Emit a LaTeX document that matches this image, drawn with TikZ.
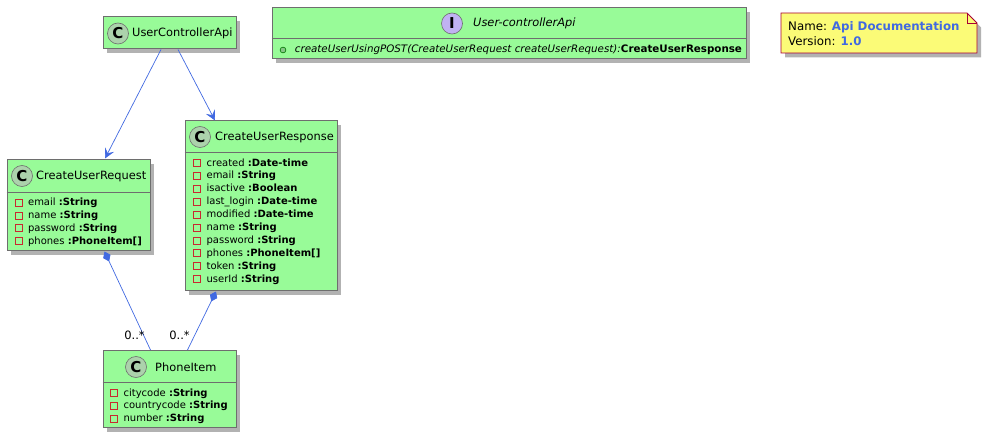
\documentclass[tikz,border=0pt]{standalone}
\usepackage{fontspec}
\setmainfont{DejaVu Sans}
\usetikzlibrary{arrows.meta,positioning,shadows}
\definecolor{boxgreen}{HTML}{98FB98}
\definecolor{boxline}{HTML}{6E6E6E}
\definecolor{linkblue}{HTML}{4169E1}
\definecolor{notefill}{HTML}{FBFB77}
\definecolor{noteline}{HTML}{A80036}
\definecolor{markred}{HTML}{C82930}
\tikzset{
  softshadow/.style={drop shadow={shadow xshift=4pt,shadow yshift=-4.5pt,fill=black,opacity=.3}},
  classbox/.style={draw=boxline,line width=1pt,fill=boxgreen,softshadow,rectangle,inner sep=0pt},
  classicon/.style={circle,draw=boxline,line width=.6pt,fill=#1,minimum size=21pt,inner sep=0pt,font=\fontsize{15}{15}\selectfont\bfseries},
  classicon/.default={green!30!gray!50},
  title/.style={inner sep=0pt,anchor=west,font=\fontsize{11.4}{13}\selectfont},
  member/.style={inner sep=0pt,anchor=west,text height=8pt,text depth=2pt,xshift=5.5pt,font=\fontsize{10}{12}\selectfont},
  privatemark/.style={rectangle,draw=markred,line width=.8pt,minimum size=7pt,inner sep=0pt},
  publicmark/.style={circle,draw=green!45!black,fill=green!35!gray!70,line width=.6pt,minimum size=5.8pt,inner sep=0pt},
  rule/.style={draw=boxline,line width=1pt},
  link/.style={linkblue,line width=.7pt},
  mult/.style={inner sep=0pt,font=\fontsize{11.5}{13}\selectfont}
}
\begin{document}
\begin{tikzpicture}[%
x=1pt,y=-1pt,
>={Stealth[inset=4pt,length=10pt,width=10pt]},
node distance=12.9pt,
on grid
]
\useasboundingbox (0,0) rectangle (982,441);

% class boxes
\node[classbox,minimum width=133pt,minimum height=32pt] (uca) at (169.5,33) {};
\node[classbox,minimum width=474pt,minimum height=51pt] (api) at (509,33.5) {};
\node[classbox,minimum width=152pt,minimum height=169pt] (resp) at (261,205.5) {};
\node[classbox,minimum width=143pt,minimum height=91pt] (req) at (78.5,204.5) {};
\node[classbox,minimum width=133pt,minimum height=77pt] (phone) at (169.5,389) {};

% dividers
\draw[rule] (api.west |- 0,39) -- (api.east |- 0,39);
\draw[rule] (resp.west |- 0,152) -- (resp.east |- 0,152);
\draw[rule] (req.west |- 0,192) -- (req.east |- 0,192);
\draw[rule] (phone.west |- 0,382) -- (phone.east |- 0,382);

% titles
\node[classicon] (ucaicon) at (118,33.5) {C};
\node[title] (ucatitle) at (132,33.5) {UserControllerApi};
\node[classicon=violet!35!blue!30] (apiicon) at (452,23.5) {I};
\node[title,font=\fontsize{11.4}{13}\selectfont\itshape] (apititle) at (473,23.5) {User-controllerApi};
\node[classicon] (respicon) at (200,137) {C};
\node[title] (resptitle) at (215,137) {CreateUserResponse};
\node[classicon] (reqicon) at (22,176) {C};
\node[title] (reqtitle) at (36,176) {CreateUserRequest};
\node[classicon] (phoneicon) at (136,367) {C};
\node[title] (phonetitle) at (155,367) {PhoneItem};

% interface method
\node[publicmark] (api1) at (283,50) {};
\node[member,xshift=3pt,font=\fontsize{10.3}{12}\selectfont\itshape] (api1t) at (api1.east) {createUserUsingPOST(CreateUserRequest createUserRequest):\textbf{\upshape CreateUserResponse}};

% response members
\node[privatemark] (resp1) at (197,163) {};
\node[privatemark] (resp2) [below of=resp1] {};
\node[privatemark] (resp3) [below of=resp2] {};
\node[privatemark] (resp4) [below of=resp3] {};
\node[privatemark] (resp5) [below of=resp4] {};
\node[privatemark] (resp6) [below of=resp5] {};
\node[privatemark] (resp7) [below of=resp6] {};
\node[privatemark] (resp8) [below of=resp7] {};
\node[privatemark] (resp9) [below of=resp8] {};
\node[privatemark] (resp10) [below of=resp9] {};
\node[member] (resp1t) at (resp1.east) {created \textbf{:Date-time}};
\node[member] (resp2t) at (resp2.east) {email \textbf{:String}};
\node[member] (resp3t) at (resp3.east) {isactive \textbf{:Boolean}};
\node[member] (resp4t) at (resp4.east) {last\_login \textbf{:Date-time}};
\node[member] (resp5t) at (resp5.east) {modified \textbf{:Date-time}};
\node[member] (resp6t) at (resp6.east) {name \textbf{:String}};
\node[member] (resp7t) at (resp7.east) {password \textbf{:String}};
\node[member] (resp8t) at (resp8.east) {phones \textbf{:PhoneItem[]}};
\node[member] (resp9t) at (resp9.east) {token \textbf{:String}};
\node[member] (resp10t) at (resp10.east) {userId \textbf{:String}};

% request members
\node[privatemark] (req1) at (18.5,202.5) {};
\node[privatemark] (req2) [below of=req1] {};
\node[privatemark] (req3) [below of=req2] {};
\node[privatemark] (req4) [below of=req3] {};
\node[member] (req1t) at (req1.east) {email \textbf{:String}};
\node[member] (req2t) at (req2.east) {name \textbf{:String}};
\node[member] (req3t) at (req3.east) {password \textbf{:String}};
\node[member] (req4t) at (req4.east) {phones \textbf{:PhoneItem[]}};

% phone members
\node[privatemark] (phone1) at (114,393) {};
\node[privatemark] (phone2) [below of=phone1] {};
\node[privatemark] (phone3) [below of=phone2] {};
\node[member] (phone1t) at (phone1.east) {citycode \textbf{:String}};
\node[member] (phone2t) at (phone2.east) {countrycode \textbf{:String}};
\node[member] (phone3t) at (phone3.east) {number \textbf{:String}};

% note
\draw[draw=noteline,line width=.8pt,fill=notefill,softshadow]
  (781,13) -- (967,13) -- (977,23) -- (977,53) -- (781,53) -- cycle;
\draw[draw=noteline,line width=.8pt] (967,13) -- (967,23) -- (977,23);
\node[inner sep=0pt,anchor=west,align=left,font=\fontsize{11.8}{15}\selectfont] (note) at (788,33.5)
  {Name: \textcolor{linkblue}{\textbf{Api Documentation}}\\Version: \textcolor{linkblue}{\textbf{1.0}}};

% arrows
\path[->,link] ([xshift=-8.5pt] uca.south) edge ([xshift=26.5pt] req.north);
\path[->,link] ([xshift=8.5pt] uca.south) edge ([xshift=-46pt] resp.north);
\path[{Diamond[length=11pt,width=8pt]}-,link] ([xshift=26pt,yshift=-1pt] req.south) edge ([xshift=-19pt] phone.north);
\path[{Diamond[length=11pt,width=8pt]}-,link] ([xshift=-45pt,yshift=-1pt] resp.south) edge ([xshift=18pt] phone.north);

% multiplicities
\node[mult] (mult1) at (134.5,335) {0..*};
\node[mult] (mult2) at (179.5,335) {0..*};
\end{tikzpicture}
\end{document}
